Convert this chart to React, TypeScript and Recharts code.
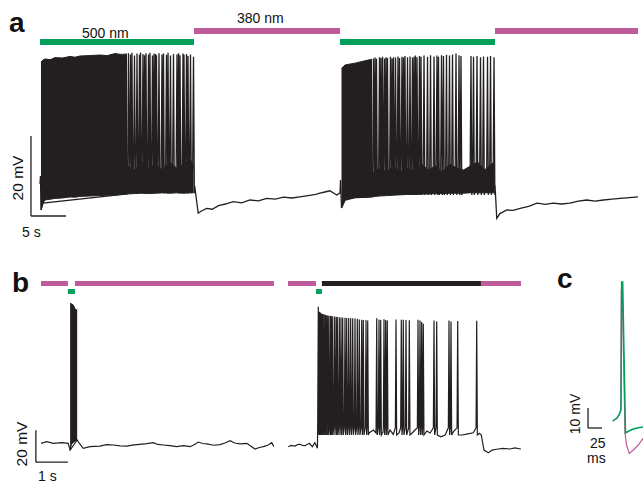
import React from "react";
import { ComposedChart, Line, Area, XAxis, YAxis, ReferenceArea, ReferenceLine } from "recharts";

const INK = "#231f20";
const GREEN = "#00a05a";
const MAGENTA = "#bd5b9b";
const FONT = "'Liberation Sans', Arial, sans-serif";

// ---- panel a : time in s, membrane potential in mV ----
// light epochs [start, end, wavelength nm]
const lightA = [[0, 22, 500], [22, 42.86, 380], [42.86, 65, 500], [65, 85.43, 380]];

// dense firing: [t, lower envelope, upper envelope]
const denseA1 = [
  [0.14, -62.5, -25.5], [0.43, -60.75, -25.0], [0.71, -60.0, -24.75], [1.5, -59.8, -24.9],
  [2.14, -59.6, -24.4], [3.2, -59.5, -24.5], [4.29, -59.25, -24.1], [5.0, -59.3, -24.3],
  [5.71, -59.1, -24.0], [7.1, -59.0, -23.9], [8.57, -58.9, -23.75], [9.6, -58.8, -23.9],
  [10.71, -58.75, -23.4], [11.6, -58.6, -23.6], [12.43, -58.5, -23.5],
];
const denseA2 = [
  [43.07, -62.0, -27.1], [43.57, -60.0, -26.25], [44.3, -59.6, -26.0], [45.0, -59.4, -25.8],
  [45.7, -59.4, -25.5], [46.43, -59.3, -25.2], [47.43, -59.2, -24.8],
];

// subthreshold oscillation band between single spikes: [t, low, high]
const oscA1 = [
  [12.43, -58.5, -51.5], [13.5, -58.4, -52.5], [14.5, -58.3, -50.5], [15.5, -58.4, -52.0],
  [16.5, -58.3, -51.0], [17.5, -58.2, -52.5], [18.5, -58.3, -50.5], [19.5, -58.2, -52.0],
  [20.5, -58.3, -51.0], [21.5, -58.2, -50.0], [21.95, -58.2, -51.5],
];
const oscA2 = [
  [47.43, -59.2, -53.5], [48.5, -59.0, -52.0], [49.5, -58.9, -53.0], [50.5, -58.8, -51.5],
  [51.5, -58.7, -53.0], [52.5, -58.6, -52.0], [53.5, -58.6, -52.8], [54.5, -58.5, -51.0],
  [55.5, -58.5, -52.5], [56.5, -58.4, -51.5], [57.5, -58.4, -53.0], [58.5, -58.3, -51.0],
  [59.5, -58.3, -52.0], [60.5, -58.3, -52.5], [61.5, -58.2, -51.5], [62.5, -58.2, -50.5],
  [63.5, -58.2, -52.5], [64.5, -58.2, -51.0], [64.95, -58.2, -50.5],
];

// single spikes: [t, peak]
const spikesA1 = [
  [12.64, -23.3], [12.93, -23.6], [13.14, -23.2], [13.5, -23.9], [13.86, -23.4], [14.21, -23.7],
  [14.36, -23.1], [14.71, -23.5], [14.93, -23.8], [15.14, -23.3], [15.5, -23.6], [15.71, -23.2],
  [16.07, -23.9], [16.29, -23.4], [16.5, -23.5], [16.64, -23.8], [17.0, -23.3], [17.43, -23.6],
  [17.64, -23.4], [18.07, -23.7], [18.29, -23.2], [18.64, -23.9], [19.07, -23.5], [19.57, -23.6],
  [19.79, -23.3], [20.0, -23.8], [20.43, -23.4], [20.57, -23.7], [20.93, -23.5], [21.14, -24.0],
  [21.5, -23.6], [21.93, -24.2],
];
const spikesA2 = [
  [47.64, -24.6], [47.86, -24.4], [48.07, -24.7], [48.5, -24.3], [48.71, -24.5], [48.93, -24.2],
  [49.21, -24.6], [49.43, -24.3], [49.64, -24.5], [50.07, -24.2], [50.29, -24.6], [50.5, -24.3],
  [50.79, -24.4], [51.14, -24.1], [51.36, -24.5], [51.71, -24.2], [51.93, -24.4], [52.14, -24.0],
  [52.5, -24.3], [52.86, -24.1], [53.21, -24.4], [53.43, -24.2], [53.64, -23.9], [53.86, -24.3],
  [54.21, -24.0], [54.43, -24.2], [54.86, -23.9], [55.36, -24.2], [55.79, -23.8], [56.29, -24.1],
  [56.71, -23.9], [56.93, -24.2], [57.36, -23.8], [57.64, -24.0], [58.07, -23.7], [58.5, -23.9],
  [58.93, -23.6], [59.43, -23.4], [59.86, -23.8], [60.14, -24.0], [61.57, -24.0], [61.93, -24.2],
  [62.43, -24.0], [62.93, -24.3], [63.36, -24.1], [63.93, -24.2], [64.36, -24.0], [64.86, -24.3],
];

// subthreshold trace: [t, mV]
const baseA = [
  [0, -56], [0.07, -54], [0.14, -62.5], [0.43, -60.75], [12.43, -58.5],
  [22.1, -56.5], [22.6, -63.3], [23.0, -62.8], [23.8, -62.1], [24.6, -62.3], [25.5, -61.4],
  [26.5, -61.0], [27.6, -60.4], [28.8, -60.7], [30.0, -60.0], [31.2, -60.2], [32.4, -59.6],
  [33.6, -59.8], [34.8, -59.3], [36.0, -59.5], [37.1, -59.2], [38.3, -58.9], [39.4, -58.6],
  [40.0, -58.3], [40.7, -58.0], [41.4, -57.7], [42.4, -58.75], [42.86, -58.2], [42.93, -55],
  [43.07, -62.0], [43.57, -60.0], [45.0, -59.4], [47.43, -59.2],
  [65.0, -56.25], [65.25, -64.6], [65.7, -63.4], [66.7, -62.5], [67.6, -62.6], [68.6, -62.1],
  [69.8, -61.6], [71.0, -60.8], [72.2, -61.1], [73.3, -60.8], [74.5, -61.0], [75.7, -60.8],
  [76.9, -60.3], [78.1, -60.0], [79.3, -60.3], [80.5, -60.0], [81.7, -59.8], [82.9, -59.6],
  [84.2, -59.4], [85.43, -59.2],
];

// ---- panel b : time in s, mV ----
const lightB1 = [[0, 0.84, 380], [0.84, 1.06, 500], [1.06, 7.28, 380]];
const lightB2 = [[0, 0.875, 380], [0.875, 1.06, 500], [1.06, 6.03, 0], [6.03, 7.28, 380]];

const burstB1 = [
  [0.91, -64.4, 27.3], [0.95, -61.0, 27.0], [1.01, -59.5, 26.2], [1.06, -59.0, 24.0],
  [1.1, -58.5, 23.2], [1.13, -58.1, 23.6],
];
const baseB1 = [
  [0, -60.2], [0.18, -59.2], [0.38, -60.2], [0.65, -59.8], [0.85, -60.2], [0.91, -64.4],
  [1.13, -58.1], [1.2, -60.2], [1.32, -63.3], [1.53, -62.3], [1.84, -61.9], [2.05, -61.0],
  [2.26, -61.25], [2.47, -61.8], [2.68, -61.9], [2.9, -61.2], [3.09, -60.8], [3.3, -60.4],
  [3.51, -59.8], [3.65, -60.9], [3.82, -61.25], [4.03, -61.6], [4.24, -62.3], [4.45, -61.7],
  [4.66, -62.3], [4.8, -61.0], [4.92, -59.4], [5.05, -60.3], [5.18, -60.6], [5.4, -61.4],
  [5.59, -61.0], [5.75, -60.0], [5.91, -58.6], [6.05, -60.0], [6.22, -60.6], [6.43, -60.2],
  [6.55, -61.8], [6.69, -63.75], [6.82, -62.8], [6.95, -62.3], [7.1, -61.25], [7.21, -59.8],
  [7.28, -62.3],
];

const spikesB2 = [
  [0.947, 25.2], [0.978, 22.0], [1.009, 21.5], [1.041, 21.0], [1.072, 20.8], [1.103, 20.5],
  [1.147, 20.3], [1.178, 20.0], [1.219, 19.8], [1.259, 19.6], [1.3125, 19.6], [1.344, 19.4],
  [1.384, 19.2], [1.447, 19.0], [1.5, 18.9], [1.541, 18.8], [1.603, 18.6], [1.656, 18.5],
  [1.709, 18.4], [1.781, 18.3], [1.834, 18.2], [1.897, 18.1], [1.959, 18.0], [2.022, 17.9],
  [2.094, 17.8], [2.166, 17.6], [2.228, 17.2], [2.303, 17.0], [2.353, 16.8], [2.4375, 16.9],
  [2.491, 16.5], [2.772, 17.9], [2.844, 17.2], [2.897, 16.9], [3.0, 17.3], [3.053, 16.9],
  [3.103, 16.6], [3.375, 17.2], [3.541, 17.0], [3.603, 17.0], [3.6875, 16.8], [3.791, 16.7],
  [4.0625, 17.0], [4.125, 16.5], [4.178, 15.6], [4.228, 14.6], [4.5625, 16.6], [4.647, 16.0],
  [5.031, 16.6], [5.094, 15.9], [5.303, 16.3], [5.897, 16.4],
];
const baseB2 = [
  [0.01, -62.3], [0.1, -61.5], [0.22, -61.9], [0.3, -61.0], [0.375, -60.8], [0.45, -61.5],
  [0.53, -61.7], [0.6, -60.9], [0.67, -60.2], [0.76, -62.3], [0.84, -59.8], [0.92, -63.3],
  [2.54, -53.6], [2.67, -51.9], [2.75, -53.75], [2.97, -53.1], [3.19, -51.9], [3.29, -54.6],
  [3.47, -53.75], [3.88, -53.75], [3.97, -51.9], [4.34, -52.5], [4.44, -53.75], [4.78, -56.1],
  [4.91, -55.0], [5.17, -52.9], [5.44, -55.0], [5.58, -54.4], [5.79, -53.6], [5.98, -53.9],
  [6.04, -55.0], [6.125, -64.4], [6.26, -66.1], [6.375, -64.4], [6.52, -63.9], [6.72, -63.4],
  [6.94, -63.75], [7.09, -63.1], [7.28, -63.75],
];

// ---- panel c : time in ms, mV ----
const spike500 = [
  [-0.5, -60], [7.1, -58.5], [11.6, -56.5], [14.3, -54.5], [15.5, 9.5], [17.3, 9.5],
  [22.3, -66], [26.8, -65.25], [33.9, -64.25], [42.9, -63.5], [53.6, -63],
];
const spike380 = [
  [-0.5, -60], [7.1, -58.5], [11.6, -56.5], [13.8, -54.5], [14.8, 5.5], [16.6, 5.5],
  [21.4, -66], [24.1, -72], [29.1, -76.2], [36.25, -74.5], [45.2, -72], [53.6, -68.7],
];

const pts = (arr: number[][]) => arr.map(([t, v]) => ({ t, v }));
const band = (arr: number[][]) => arr.map(([t, lo, hi]) => ({ t, range: [lo, hi] }));
const spikePts = (arr: number[][], thr: number, trough: number, d: number) =>
  arr.flatMap(([t, peak]) => [{ t: t - d, v: thr }, { t, v: peak }, { t: t + d, v: trough }]);
const byTime = (a: { t: number }, b: { t: number }) => a.t - b.t;

const traceA = [
  ...pts(baseA),
  ...spikePts(spikesA1, -52, -58.3, 0.12),
  ...spikePts(spikesA2, -53, -58.75, 0.12),
].sort(byTime);
const traceB1 = pts(baseB1);
const traceB2 = [...pts(baseB2), ...spikePts(spikesB2, -50.5, -55, 0.02)].sort(byTime);

const lightColor = (nm: number) => (nm === 500 ? GREEN : nm === 380 ? MAGENTA : INK);

function Panel({ left, top, width, height, x, y, children }: any) {
  return (
    <div style={{ position: "absolute", left, top }}>
      <ComposedChart width={width} height={height} margin={{ top: 0, right: 0, bottom: 0, left: 0 }}>
        <XAxis type="number" dataKey="t" domain={x} hide allowDataOverflow />
        <YAxis type="number" domain={y} hide allowDataOverflow />
        {children}
      </ComposedChart>
    </div>
  );
}

// light bars: 500 nm on lower row, others on upper row
const lightBars = (epochs: number[][], upper: number[], lower: number[]) =>
  epochs.map(([s, e, nm], i) => {
    const row = nm === 500 ? lower : upper;
    return (
      <ReferenceArea key={"l" + i} x1={s} x2={e} y1={row[0]} y2={row[1]}
        fill={lightColor(nm)} fillOpacity={1} stroke="none" ifOverflow="visible" />
    );
  });

const scaleBar = (t0: number, dt: number, v0: number, dv: number) => [
  <ReferenceLine key="sv" segment={[{ x: t0, y: v0 }, { x: t0, y: v0 + dv }]} stroke={INK} strokeWidth={1.3} ifOverflow="visible" />,
  <ReferenceLine key="sh" segment={[{ x: t0, y: v0 }, { x: t0 + dt, y: v0 }]} stroke={INK} strokeWidth={1.3} ifOverflow="visible" />,
];

const fillBand = (data: number[][], key: string) => (
  <Area key={key} data={band(data)} dataKey="range" type="linear" stroke={INK} strokeWidth={1}
    fill={INK} fillOpacity={1} isAnimationActive={false} />
);

export default function App() {
  return (
    <div style={{ position: "absolute", left: 0, top: 0, width: 643, height: 485, background: "#fff", fontFamily: FONT }}>
      {/* a */}
      <Panel left={20} top={20} width={620} height={200} x={[-2.857, 85.714]} y={[-65, -15]}>
        {lightBars(lightA, [-18.5, -17], [-21.25, -19.75])}
        {scaleBar(-1.29, 5, -64, 20)}
        {fillBand(denseA1, "d1")}
        {fillBand(denseA2, "d2")}
        {fillBand(oscA1, "o1")}
        {fillBand(oscA2, "o2")}
        <Line data={traceA} dataKey="v" type="linear" stroke={INK} strokeWidth={1.3} dot={false} isAnimationActive={false} />
      </Panel>

      {/* b */}
      <Panel left={30} top={275} width={244} height={192} x={[-0.34375, 7.28125]} y={[-75, 45]}>
        {lightBars(lightB1, [38.125, 41.25], [33.125, 36.25])}
        {scaleBar(-0.16, 1, -72, 20)}
        {fillBand(burstB1, "b1")}
        <Line data={traceB1} dataKey="v" type="linear" stroke={INK} strokeWidth={1.2} dot={false} isAnimationActive={false} />
      </Panel>
      <Panel left={288} top={275} width={233} height={192} x={[0, 7.28125]} y={[-75, 45]}>
        {lightBars(lightB2, [38.125, 41.25], [33.125, 36.25])}
        <Line data={traceB2} dataKey="v" type="linear" stroke={INK} strokeWidth={1.2} dot={false} isAnimationActive={false} />
      </Panel>

      {/* c */}
      <Panel left={585} top={270} width={58} height={195} x={[-50, 53.57]} y={[-82, 15.5]}>
        {scaleBar(-44.6, 25, -63.5, 10)}
        <Line data={pts(spike380)} dataKey="v" type="linear" stroke={MAGENTA} strokeWidth={1.2} dot={false} isAnimationActive={false} />
        <Line data={pts(spike500)} dataKey="v" type="linear" stroke={GREEN} strokeWidth={1.5} dot={false} isAnimationActive={false} />
      </Panel>

      <svg width={643} height={485} style={{ position: "absolute", left: 0, top: 0, pointerEvents: "none" }} fontFamily={FONT} fill="#111">
        <text x={9} y={32} fontSize={28} fontWeight="bold">a</text>
        <text x={82} y={38} fontSize={14}>500 nm</text>
        <text x={237} y={23} fontSize={14}>380 nm</text>
        <text x={23} y={178} fontSize={15.5} textAnchor="middle" transform="rotate(-90 23 178)">20 mV</text>
        <text x={22} y={237} fontSize={14}>5 s</text>

        <text x={12} y={292} fontSize={28} fontWeight="bold">b</text>
        <text x={27} y={444} fontSize={15.5} textAnchor="middle" transform="rotate(-90 27 444)">20 mV</text>
        <text x={38} y={481} fontSize={14}>1 s</text>

        <text x={557} y={288} fontSize={28} fontWeight="bold">c</text>
        <text x={580} y={414} fontSize={14} textAnchor="middle" transform="rotate(-90 580 414)">10 mV</text>
        <text x={590} y={448} fontSize={14}>25</text>
        <text x={587} y={463} fontSize={14}>ms</text>
      </svg>
    </div>
  );
}
